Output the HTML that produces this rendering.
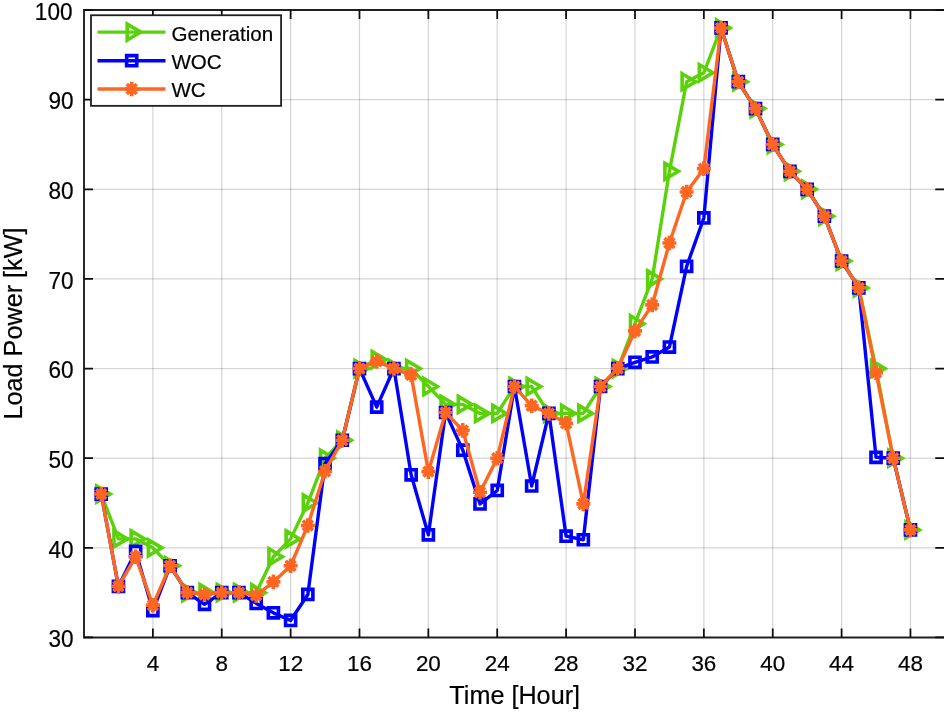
<!DOCTYPE html>
<html lang="en"><head><meta charset="utf-8"><title>Load Power</title>
<style>html,body{margin:0;padding:0;background:#fff;overflow:hidden}svg{display:block}text{font-family:"Liberation Sans", sans-serif;fill:#000;stroke:#000;stroke-width:0.2px}</style></head><body>
<svg width="944" height="712" viewBox="0 0 944 712">
<rect width="944" height="712" fill="#fff"/>
<path d="M152.87 10.00V637.48M221.74 10.00V637.48M290.62 10.00V637.48M359.49 10.00V637.48M428.36 10.00V637.48M497.23 10.00V637.48M566.10 10.00V637.48M634.98 10.00V637.48M703.85 10.00V637.48M772.72 10.00V637.48M841.59 10.00V637.48M910.46 10.00V637.48" stroke="#262626" stroke-opacity="0.2" stroke-width="1.2" fill="none"/>
<path d="M84.00 547.84H945.40M84.00 458.20H945.40M84.00 368.56H945.40M84.00 278.92H945.40M84.00 189.28H945.40M84.00 99.64H945.40" stroke="#262626" stroke-opacity="0.2" stroke-width="1.2" fill="none"/>
<path d="M84.00 10.00H945.40V637.48H84.00Z" stroke="#202020" stroke-width="1.9" fill="none"/>
<path d="M152.87 637.48v-9.00M152.87 10.00v9.00M221.74 637.48v-9.00M221.74 10.00v9.00M290.62 637.48v-9.00M290.62 10.00v9.00M359.49 637.48v-9.00M359.49 10.00v9.00M428.36 637.48v-9.00M428.36 10.00v9.00M497.23 637.48v-9.00M497.23 10.00v9.00M566.10 637.48v-9.00M566.10 10.00v9.00M634.98 637.48v-9.00M634.98 10.00v9.00M703.85 637.48v-9.00M703.85 10.00v9.00M772.72 637.48v-9.00M772.72 10.00v9.00M841.59 637.48v-9.00M841.59 10.00v9.00M910.46 637.48v-9.00M910.46 10.00v9.00M84.00 637.48h9.00M945.40 637.48H935.30M84.00 547.84h9.00M945.40 547.84H935.30M84.00 458.20h9.00M945.40 458.20H935.30M84.00 368.56h9.00M945.40 368.56H935.30M84.00 278.92h9.00M945.40 278.92H935.30M84.00 189.28h9.00M945.40 189.28H935.30M84.00 99.64h9.00M945.40 99.64H935.30M84.00 10.00h9.00M945.40 10.00H935.30" stroke="#0c0c0c" stroke-width="1.75" fill="none"/>
<text transform="translate(152.87,671.00) scale(0.980,1)" font-size="22.9" text-anchor="middle">4</text>
<text transform="translate(221.74,671.00) scale(0.980,1)" font-size="22.9" text-anchor="middle">8</text>
<text transform="translate(290.62,671.00) scale(0.980,1)" font-size="22.9" text-anchor="middle">12</text>
<text transform="translate(359.49,671.00) scale(0.980,1)" font-size="22.9" text-anchor="middle">16</text>
<text transform="translate(428.36,671.00) scale(0.980,1)" font-size="22.9" text-anchor="middle">20</text>
<text transform="translate(497.23,671.00) scale(0.980,1)" font-size="22.9" text-anchor="middle">24</text>
<text transform="translate(566.10,671.00) scale(0.980,1)" font-size="22.9" text-anchor="middle">28</text>
<text transform="translate(634.98,671.00) scale(0.980,1)" font-size="22.9" text-anchor="middle">32</text>
<text transform="translate(703.85,671.00) scale(0.980,1)" font-size="22.9" text-anchor="middle">36</text>
<text transform="translate(772.72,671.00) scale(0.980,1)" font-size="22.9" text-anchor="middle">40</text>
<text transform="translate(841.59,671.00) scale(0.980,1)" font-size="22.9" text-anchor="middle">44</text>
<text transform="translate(910.46,671.00) scale(0.980,1)" font-size="22.9" text-anchor="middle">48</text>
<text transform="translate(73.60,647.28) scale(0.965,1)" font-size="23.4" text-anchor="end">30</text>
<text transform="translate(73.60,557.64) scale(0.965,1)" font-size="23.4" text-anchor="end">40</text>
<text transform="translate(73.60,468.00) scale(0.965,1)" font-size="23.4" text-anchor="end">50</text>
<text transform="translate(73.60,378.36) scale(0.965,1)" font-size="23.4" text-anchor="end">60</text>
<text transform="translate(73.60,288.72) scale(0.965,1)" font-size="23.4" text-anchor="end">70</text>
<text transform="translate(73.60,199.08) scale(0.965,1)" font-size="23.4" text-anchor="end">80</text>
<text transform="translate(73.60,109.44) scale(0.965,1)" font-size="23.4" text-anchor="end">90</text>
<text transform="translate(72.50,19.80) scale(0.965,1)" font-size="23.4" text-anchor="end">100</text>
<text transform="translate(514.70,704.00) scale(0.985,1)" font-size="25.6" text-anchor="middle">Time [Hour]</text>
<text transform="translate(22.00,323.50) rotate(-90) scale(0.985,1)" font-size="25.6" text-anchor="middle">Load Power [kW]</text>
<g>
<polyline points="101.22,494.06 118.44,538.88 135.65,538.88 152.87,547.84 170.09,565.77 187.31,592.66 204.53,592.66 221.74,592.66 238.96,592.66 256.18,592.66 273.40,556.80 290.62,538.88 307.83,503.02 325.05,458.20 342.27,440.27 359.49,368.56 376.71,359.60 393.92,368.56 411.14,368.56 428.36,386.49 445.58,404.42 462.80,404.42 480.01,413.38 497.23,413.38 514.45,386.49 531.67,386.49 548.89,413.38 566.10,413.38 583.32,413.38 600.54,386.49 617.76,368.56 634.98,323.74 652.19,278.92 669.41,171.35 686.63,81.71 703.85,72.75 721.07,27.93 738.28,81.71 755.50,108.60 772.72,144.46 789.94,171.35 807.16,189.28 824.37,216.17 841.59,260.99 858.81,287.88 876.03,368.56 893.25,458.20 910.46,529.91" stroke="#5AD20A" stroke-width="3.4" fill="none" stroke-linejoin="round"/>
<path d="M96.72 486.06L110.22 494.06L96.72 502.06ZM113.94 530.88L127.44 538.88L113.94 546.88ZM131.15 530.88L144.65 538.88L131.15 546.88ZM148.37 539.84L161.87 547.84L148.37 555.84ZM165.59 557.77L179.09 565.77L165.59 573.77ZM182.81 584.66L196.31 592.66L182.81 600.66ZM200.03 584.66L213.53 592.66L200.03 600.66ZM217.24 584.66L230.74 592.66L217.24 600.66ZM234.46 584.66L247.96 592.66L234.46 600.66ZM251.68 584.66L265.18 592.66L251.68 600.66ZM268.90 548.80L282.40 556.80L268.90 564.80ZM286.12 530.88L299.62 538.88L286.12 546.88ZM303.33 495.02L316.83 503.02L303.33 511.02ZM320.55 450.20L334.05 458.20L320.55 466.20ZM337.77 432.27L351.27 440.27L337.77 448.27ZM354.99 360.56L368.49 368.56L354.99 376.56ZM372.21 351.60L385.71 359.60L372.21 367.60ZM389.42 360.56L402.92 368.56L389.42 376.56ZM406.64 360.56L420.14 368.56L406.64 376.56ZM423.86 378.49L437.36 386.49L423.86 394.49ZM441.08 396.42L454.58 404.42L441.08 412.42ZM458.30 396.42L471.80 404.42L458.30 412.42ZM475.51 405.38L489.01 413.38L475.51 421.38ZM492.73 405.38L506.23 413.38L492.73 421.38ZM509.95 378.49L523.45 386.49L509.95 394.49ZM527.17 378.49L540.67 386.49L527.17 394.49ZM544.39 405.38L557.89 413.38L544.39 421.38ZM561.60 405.38L575.10 413.38L561.60 421.38ZM578.82 405.38L592.32 413.38L578.82 421.38ZM596.04 378.49L609.54 386.49L596.04 394.49ZM613.26 360.56L626.76 368.56L613.26 376.56ZM630.48 315.74L643.98 323.74L630.48 331.74ZM647.69 270.92L661.19 278.92L647.69 286.92ZM664.91 163.35L678.41 171.35L664.91 179.35ZM682.13 73.71L695.63 81.71L682.13 89.71ZM699.35 64.75L712.85 72.75L699.35 80.75ZM716.57 19.93L730.07 27.93L716.57 35.93ZM733.78 73.71L747.28 81.71L733.78 89.71ZM751.00 100.60L764.50 108.60L751.00 116.60ZM768.22 136.46L781.72 144.46L768.22 152.46ZM785.44 163.35L798.94 171.35L785.44 179.35ZM802.66 181.28L816.16 189.28L802.66 197.28ZM819.87 208.17L833.37 216.17L819.87 224.17ZM837.09 252.99L850.59 260.99L837.09 268.99ZM854.31 279.88L867.81 287.88L854.31 295.88ZM871.53 360.56L885.03 368.56L871.53 376.56ZM888.75 450.20L902.25 458.20L888.75 466.20ZM905.96 521.91L919.46 529.91L905.96 537.91Z" stroke="#5AD20A" stroke-width="3.6" fill="none" stroke-linejoin="miter"/>
<polyline points="101.22,494.06 118.44,586.39 135.65,551.43 152.87,610.59 170.09,565.77 187.31,592.66 204.53,604.31 221.74,592.66 238.96,592.66 256.18,603.42 273.40,612.83 290.62,620.45 307.83,594.45 325.05,463.58 342.27,440.27 359.49,368.56 376.71,407.11 393.92,368.56 411.14,474.78 428.36,534.84 445.58,412.48 462.80,450.13 480.01,503.92 497.23,490.47 514.45,386.49 531.67,485.99 548.89,413.38 566.10,536.19 583.32,539.77 600.54,386.49 617.76,368.56 634.98,362.29 652.19,356.91 669.41,347.05 686.63,266.37 703.85,217.96 721.07,27.93 738.28,81.71 755.50,108.60 772.72,144.46 789.94,171.35 807.16,189.28 824.37,216.17 841.59,260.99 858.81,287.88 876.03,457.30 893.25,458.20 910.46,529.91" stroke="#0000FF" stroke-width="3.4" fill="none" stroke-linejoin="round"/>
<path d="M96.17 489.01h10.1v10.1h-10.1ZM113.39 581.34h10.1v10.1h-10.1ZM130.60 546.38h10.1v10.1h-10.1ZM147.82 605.54h10.1v10.1h-10.1ZM165.04 560.72h10.1v10.1h-10.1ZM182.26 587.61h10.1v10.1h-10.1ZM199.48 599.26h10.1v10.1h-10.1ZM216.69 587.61h10.1v10.1h-10.1ZM233.91 587.61h10.1v10.1h-10.1ZM251.13 598.37h10.1v10.1h-10.1ZM268.35 607.78h10.1v10.1h-10.1ZM285.57 615.40h10.1v10.1h-10.1ZM302.78 589.40h10.1v10.1h-10.1ZM320.00 458.53h10.1v10.1h-10.1ZM337.22 435.22h10.1v10.1h-10.1ZM354.44 363.51h10.1v10.1h-10.1ZM371.66 402.06h10.1v10.1h-10.1ZM388.87 363.51h10.1v10.1h-10.1ZM406.09 469.73h10.1v10.1h-10.1ZM423.31 529.79h10.1v10.1h-10.1ZM440.53 407.43h10.1v10.1h-10.1ZM457.75 445.08h10.1v10.1h-10.1ZM474.96 498.87h10.1v10.1h-10.1ZM492.18 485.42h10.1v10.1h-10.1ZM509.40 381.44h10.1v10.1h-10.1ZM526.62 480.94h10.1v10.1h-10.1ZM543.84 408.33h10.1v10.1h-10.1ZM561.05 531.14h10.1v10.1h-10.1ZM578.27 534.72h10.1v10.1h-10.1ZM595.49 381.44h10.1v10.1h-10.1ZM612.71 363.51h10.1v10.1h-10.1ZM629.93 357.24h10.1v10.1h-10.1ZM647.14 351.86h10.1v10.1h-10.1ZM664.36 342.00h10.1v10.1h-10.1ZM681.58 261.32h10.1v10.1h-10.1ZM698.80 212.91h10.1v10.1h-10.1ZM716.02 22.88h10.1v10.1h-10.1ZM733.23 76.66h10.1v10.1h-10.1ZM750.45 103.55h10.1v10.1h-10.1ZM767.67 139.41h10.1v10.1h-10.1ZM784.89 166.30h10.1v10.1h-10.1ZM802.11 184.23h10.1v10.1h-10.1ZM819.32 211.12h10.1v10.1h-10.1ZM836.54 255.94h10.1v10.1h-10.1ZM853.76 282.83h10.1v10.1h-10.1ZM870.98 452.25h10.1v10.1h-10.1ZM888.20 453.15h10.1v10.1h-10.1ZM905.41 524.86h10.1v10.1h-10.1Z" stroke="#0000FF" stroke-width="3.6" fill="none" stroke-linejoin="miter"/>
<polyline points="101.22,494.06 118.44,586.39 135.65,556.80 152.87,605.21 170.09,565.77 187.31,592.66 204.53,594.45 221.74,592.66 238.96,592.66 256.18,595.35 273.40,581.90 290.62,565.77 307.83,525.43 325.05,471.20 342.27,440.27 359.49,368.56 376.71,361.39 393.92,368.56 411.14,374.83 428.36,471.65 445.58,412.48 462.80,430.41 480.01,492.26 497.23,458.20 514.45,386.49 531.67,405.76 548.89,413.38 566.10,423.24 583.32,503.92 600.54,386.49 617.76,368.56 634.98,330.91 652.19,304.92 669.41,243.06 686.63,191.97 703.85,168.66 721.07,27.93 738.28,81.71 755.50,108.60 772.72,144.46 789.94,171.35 807.16,189.28 824.37,216.17 841.59,260.99 858.81,287.88 876.03,372.59 893.25,458.20 910.46,529.91" stroke="#FF6622" stroke-width="3.4" fill="none" stroke-linejoin="round"/>
<path d="M94.22 494.06h14.00M101.22 486.76v14.60M96.27 489.11l9.90 9.90M96.27 499.01l9.90 -9.90M111.44 586.39h14.00M118.44 579.09v14.60M113.49 581.44l9.90 9.90M113.49 591.33l9.90 -9.90M128.65 556.80h14.00M135.65 549.50v14.60M130.70 551.85l9.90 9.90M130.70 561.75l9.90 -9.90M145.87 605.21h14.00M152.87 597.91v14.60M147.92 600.26l9.90 9.90M147.92 610.16l9.90 -9.90M163.09 565.77h14.00M170.09 558.47v14.60M165.14 560.82l9.90 9.90M165.14 570.72l9.90 -9.90M180.31 592.66h14.00M187.31 585.36v14.60M182.36 587.71l9.90 9.90M182.36 597.61l9.90 -9.90M197.53 594.45h14.00M204.53 587.15v14.60M199.58 589.50l9.90 9.90M199.58 599.40l9.90 -9.90M214.74 592.66h14.00M221.74 585.36v14.60M216.79 587.71l9.90 9.90M216.79 597.61l9.90 -9.90M231.96 592.66h14.00M238.96 585.36v14.60M234.01 587.71l9.90 9.90M234.01 597.61l9.90 -9.90M249.18 595.35h14.00M256.18 588.05v14.60M251.23 590.40l9.90 9.90M251.23 600.30l9.90 -9.90M266.40 581.90h14.00M273.40 574.60v14.60M268.45 576.95l9.90 9.90M268.45 586.85l9.90 -9.90M283.62 565.77h14.00M290.62 558.47v14.60M285.67 560.82l9.90 9.90M285.67 570.72l9.90 -9.90M300.83 525.43h14.00M307.83 518.13v14.60M302.88 520.48l9.90 9.90M302.88 530.38l9.90 -9.90M318.05 471.20h14.00M325.05 463.90v14.60M320.10 466.25l9.90 9.90M320.10 476.15l9.90 -9.90M335.27 440.27h14.00M342.27 432.97v14.60M337.32 435.32l9.90 9.90M337.32 445.22l9.90 -9.90M352.49 368.56h14.00M359.49 361.26v14.60M354.54 363.61l9.90 9.90M354.54 373.51l9.90 -9.90M369.71 361.39h14.00M376.71 354.09v14.60M371.76 356.44l9.90 9.90M371.76 366.34l9.90 -9.90M386.92 368.56h14.00M393.92 361.26v14.60M388.97 363.61l9.90 9.90M388.97 373.51l9.90 -9.90M404.14 374.83h14.00M411.14 367.53v14.60M406.19 369.89l9.90 9.90M406.19 379.78l9.90 -9.90M421.36 471.65h14.00M428.36 464.35v14.60M423.41 466.70l9.90 9.90M423.41 476.60l9.90 -9.90M438.58 412.48h14.00M445.58 405.18v14.60M440.63 407.53l9.90 9.90M440.63 417.43l9.90 -9.90M455.80 430.41h14.00M462.80 423.11v14.60M457.85 425.46l9.90 9.90M457.85 435.36l9.90 -9.90M473.01 492.26h14.00M480.01 484.96v14.60M475.06 487.31l9.90 9.90M475.06 497.21l9.90 -9.90M490.23 458.20h14.00M497.23 450.90v14.60M492.28 453.25l9.90 9.90M492.28 463.15l9.90 -9.90M507.45 386.49h14.00M514.45 379.19v14.60M509.50 381.54l9.90 9.90M509.50 391.44l9.90 -9.90M524.67 405.76h14.00M531.67 398.46v14.60M526.72 400.81l9.90 9.90M526.72 410.71l9.90 -9.90M541.89 413.38h14.00M548.89 406.08v14.60M543.94 408.43l9.90 9.90M543.94 418.33l9.90 -9.90M559.10 423.24h14.00M566.10 415.94v14.60M561.15 418.29l9.90 9.90M561.15 428.19l9.90 -9.90M576.32 503.92h14.00M583.32 496.62v14.60M578.37 498.97l9.90 9.90M578.37 508.87l9.90 -9.90M593.54 386.49h14.00M600.54 379.19v14.60M595.59 381.54l9.90 9.90M595.59 391.44l9.90 -9.90M610.76 368.56h14.00M617.76 361.26v14.60M612.81 363.61l9.90 9.90M612.81 373.51l9.90 -9.90M627.98 330.91h14.00M634.98 323.61v14.60M630.03 325.96l9.90 9.90M630.03 335.86l9.90 -9.90M645.19 304.92h14.00M652.19 297.62v14.60M647.24 299.97l9.90 9.90M647.24 309.87l9.90 -9.90M662.41 243.06h14.00M669.41 235.76v14.60M664.46 238.11l9.90 9.90M664.46 248.01l9.90 -9.90M679.63 191.97h14.00M686.63 184.67v14.60M681.68 187.02l9.90 9.90M681.68 196.92l9.90 -9.90M696.85 168.66h14.00M703.85 161.36v14.60M698.90 163.71l9.90 9.90M698.90 173.61l9.90 -9.90M714.07 27.93h14.00M721.07 20.63v14.60M716.12 22.98l9.90 9.90M716.12 32.88l9.90 -9.90M731.28 81.71h14.00M738.28 74.41v14.60M733.33 76.76l9.90 9.90M733.33 86.66l9.90 -9.90M748.50 108.60h14.00M755.50 101.30v14.60M750.55 103.65l9.90 9.90M750.55 113.55l9.90 -9.90M765.72 144.46h14.00M772.72 137.16v14.60M767.77 139.51l9.90 9.90M767.77 149.41l9.90 -9.90M782.94 171.35h14.00M789.94 164.05v14.60M784.99 166.40l9.90 9.90M784.99 176.30l9.90 -9.90M800.16 189.28h14.00M807.16 181.98v14.60M802.21 184.33l9.90 9.90M802.21 194.23l9.90 -9.90M817.37 216.17h14.00M824.37 208.87v14.60M819.42 211.22l9.90 9.90M819.42 221.12l9.90 -9.90M834.59 260.99h14.00M841.59 253.69v14.60M836.64 256.04l9.90 9.90M836.64 265.94l9.90 -9.90M851.81 287.88h14.00M858.81 280.58v14.60M853.86 282.93l9.90 9.90M853.86 292.83l9.90 -9.90M869.03 372.59h14.00M876.03 365.29v14.60M871.08 367.64l9.90 9.90M871.08 377.54l9.90 -9.90M886.25 458.20h14.00M893.25 450.90v14.60M888.30 453.25l9.90 9.90M888.30 463.15l9.90 -9.90M903.46 529.91h14.00M910.46 522.61v14.60M905.51 524.96l9.90 9.90M905.51 534.86l9.90 -9.90" stroke="#FF6622" stroke-width="3.6" fill="none" stroke-linejoin="miter"/>
</g>
<rect x="91" y="15.25" width="190.1" height="90.6" fill="#fff" stroke="#202020" stroke-width="1.8"/>
<path d="M97.5 32.10H165.5" stroke="#5AD20A" stroke-width="3.4" fill="none"/>
<path d="M127.20 24.10L140.70 32.10L127.20 40.10Z" stroke="#5AD20A" stroke-width="3.6" fill="none"/>
<text transform="translate(171.40,40.80) scale(0.980,1)" font-size="21" text-anchor="start">Generation</text>
<path d="M97.5 60.70H165.5" stroke="#0000FF" stroke-width="3.4" fill="none"/>
<path d="M126.65 55.65h10.1v10.1h-10.1Z" stroke="#0000FF" stroke-width="3.6" fill="none"/>
<text transform="translate(171.40,69.00) scale(0.980,1)" font-size="21" text-anchor="start">WOC</text>
<path d="M97.5 89.05H165.5" stroke="#FF6622" stroke-width="3.4" fill="none"/>
<path d="M124.70 89.05h14.00M131.70 81.75v14.60M126.75 84.10l9.90 9.90M126.75 94.00l9.90 -9.90" stroke="#FF6622" stroke-width="3.6" fill="none"/>
<text transform="translate(171.40,97.40) scale(0.980,1)" font-size="21" text-anchor="start">WC</text>
</svg></body></html>
